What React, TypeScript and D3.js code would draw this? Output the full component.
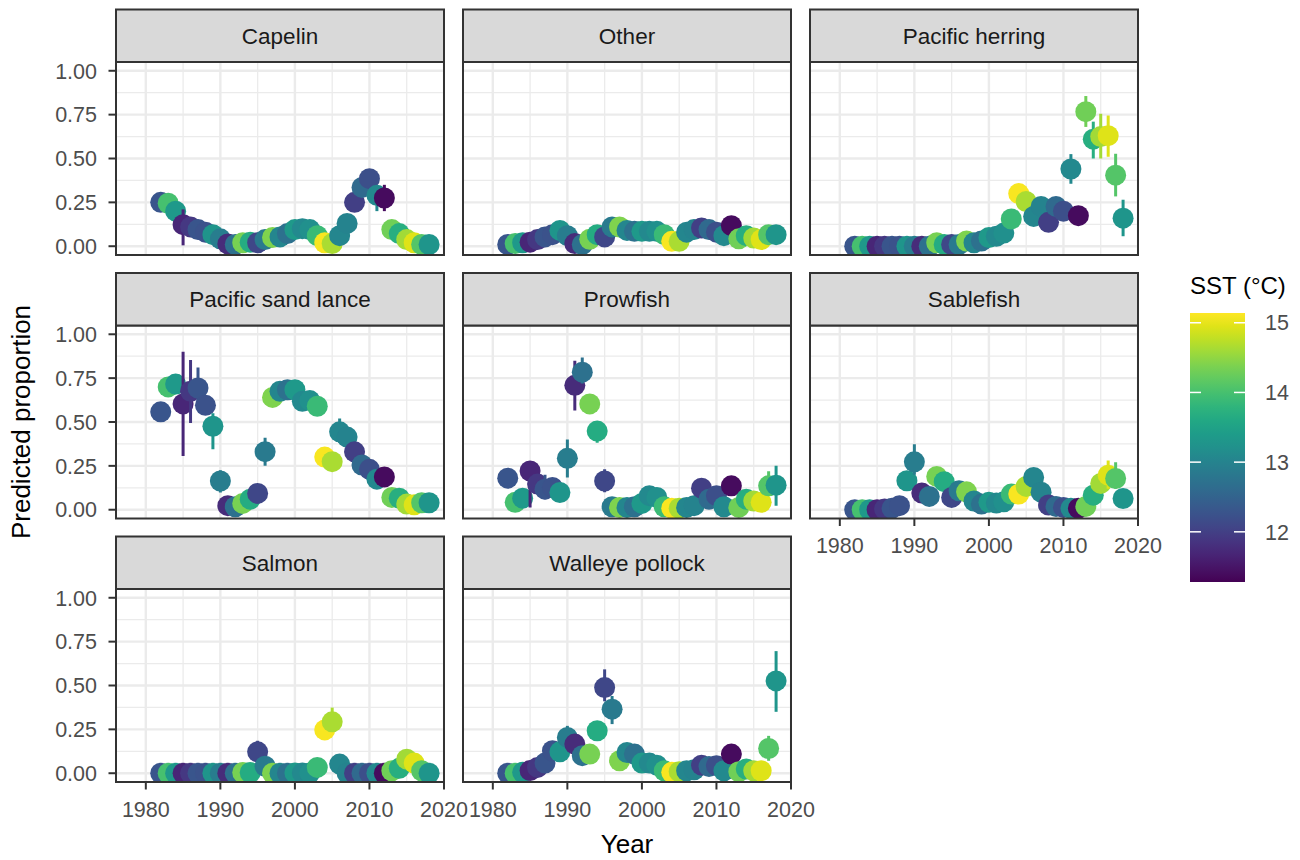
import React, { useEffect, useRef } from 'react';
import * as d3 from 'd3';

const years = [1982, 1983, 1984, 1985, 1986, 1987, 1988, 1989, 1990, 1991, 1992, 1993, 1994, 1995, 1996, 1997, 1998, 1999, 2000,
  2001, 2002, 2003, 2004, 2005, 2006, 2007, 2008, 2009, 2010, 2011, 2012, 2013, 2014, 2015, 2016, 2017, 2018];

// sea surface temperature for each year
const sst = [12.3, 14.0, 13.35, 11.7, 11.9, 12.3, 12.25, 13.3, 12.9, 11.75, 12.7, 14.35, 13.65, 12.1, 12.85, 14.4, 13.05, 12.7, 13.35,
  13.1, 13.2, 13.9, 15.1, 14.65, 13.05, 13.0, 12.0, 12.6, 12.2, 13.1, 11.4, 14.3, 13.7, 14.6, 14.95, 14.1, 13.3];

const capelin = [0.25, 0.245, 0.2, 0.123, 0.11, 0.095, 0.08, 0.066, 0.042, 0.013, 0.01, 0.02, 0.023, 0.02, 0.038, 0.05, 0.053, 0.072, 0.095,
  0.1, 0.095, 0.06, 0.02, 0.015, 0.06, 0.13, 0.25, 0.335, 0.385, 0.29, 0.275, 0.095, 0.072, 0.038, 0.02, 0.01, 0.01];
const other = [0.01, 0.015, 0.02, 0.023, 0.038, 0.053, 0.066, 0.09, 0.06, 0.015, 0.01, 0.04, 0.066, 0.053, 0.11, 0.11, 0.09, 0.085, 0.085,
  0.085, 0.085, 0.066, 0.028, 0.028, 0.08, 0.095, 0.104, 0.095, 0.08, 0.06, 0.117, 0.042, 0.06, 0.047, 0.038, 0.066, 0.066];
const herring = [0, 0, 0, 0, 0, 0, 0, 0, 0, 0, 0, 0.02, 0.01, 0.01, 0.01, 0.03, 0.02, 0.03, 0.05,
  0.057, 0.075, 0.155, 0.3, 0.255, 0.17, 0.227, 0.136, 0.227, 0.2, 0.44, 0.174, 0.767, 0.61, 0.625, 0.63, 0.405, 0.16];
const sandLance = [0.558, 0.7, 0.716, 0.603, 0.675, 0.694, 0.595, 0.476, 0.164, 0.023, 0.017, 0.036, 0.06, 0.093, 0.331, 0.64, 0.675, 0.684, 0.684,
  0.618, 0.622, 0.59, 0.3, 0.274, 0.444, 0.414, 0.33, 0.255, 0.23, 0.174, 0.187, 0.07, 0.066, 0.032, 0.028, 0.04, 0.04];
const prowfish = [0.18, 0.042, 0.066, 0.221, 0.146, 0.117, 0.127, 0.098, 0.293, 0.709, 0.784, 0.603, 0.448, 0.164, 0.017, 0.013, 0.013, 0.017, 0.036,
  0.08, 0.07, 0.017, 0.009, 0.009, 0.013, 0.023, 0.123, 0.06, 0.08, 0.017, 0.136, 0.013, 0.06, 0.05, 0.042, 0.136, 0.14];
const sablefish = [0, 0, 0, 0, 0.004, 0.008, 0.023, 0.165, 0.273, 0.095, 0.076, 0.19, 0.16, 0.07, 0.108, 0.102, 0.05, 0.032, 0.042,
  0.038, 0.045, 0.089, 0.089, 0.133, 0.184, 0.1, 0.027, 0.019, 0.013, 0.008, 0.008, 0.019, 0.083, 0.15, 0.197, 0.178, 0.064];
const salmon = [0, 0, 0, 0, 0, 0, 0, 0, 0, 0, 0, 0.004, 0.004, 0.122, 0.04, 0, 0, 0, 0.002,
  0.002, 0.002, 0.033, 0.247, 0.293, 0.052, 0, 0, 0, 0, 0, 0, 0.014, 0.028, 0.08, 0.058, 0.014, 0];
const pollock = [0, 0, 0.005, 0.015, 0.033, 0.058, 0.128, 0.122, 0.204, 0.166, 0.1, 0.109, 0.242, 0.488, 0.365, 0.071, 0.118, 0.109, 0.058,
  0.058, 0.046, 0.014, 0.005, 0.009, 0.014, 0.02, 0.046, 0.039, 0.043, 0.014, 0.109, 0.009, 0.024, 0.014, 0.014, 0.141, 0.526];

// [year, lower, upper] for the intervals that show past the points
const capelinBars = [[1985, 0.005, 0.21], [2011, 0.2, 0.33], [2012, 0.2, 0.35]];
const otherBars = [];
const herringBars = [[2011, 0.356, 0.525], [2013, 0.68, 0.856], [2014, 0.5, 0.71], [2015, 0.5, 0.755], [2016, 0.51, 0.745],
  [2017, 0.284, 0.527], [2018, 0.057, 0.265]];
const sandLanceBars = [[1985, 0.306, 0.9], [1986, 0.495, 0.854], [1987, 0.58, 0.81], [1989, 0.344, 0.55], [1990, 0.098, 0.225],
  [1996, 0.25, 0.41], [1997, 0.6, 0.67], [2006, 0.38, 0.52]];
const prowfishBars = [[1985, 0.013, 0.278], [1987, 0.06, 0.2], [1990, 0.183, 0.4], [1991, 0.565, 0.849], [1992, 0.72, 0.868],
  [1994, 0.382, 0.505], [1995, 0.1, 0.23], [2017, 0.08, 0.22], [2018, 0.023, 0.25]];
const sablefishBars = [[1990, 0.2, 0.373], [2016, 0.12, 0.28], [2017, 0.12, 0.27]];
const salmonBars = [[1995, 0.08, 0.185], [2005, 0.24, 0.374]];
const pollockBars = [[1990, 0.15, 0.27], [1995, 0.41, 0.592], [1996, 0.28, 0.44], [2017, 0.071, 0.213], [2018, 0.35, 0.696]];

const panels = [
  { name: 'Capelin', values: capelin, bars: capelinBars },
  { name: 'Other', values: other, bars: otherBars },
  { name: 'Pacific herring', values: herring, bars: herringBars },
  { name: 'Pacific sand lance', values: sandLance, bars: sandLanceBars },
  { name: 'Prowfish', values: prowfish, bars: prowfishBars },
  { name: 'Sablefish', values: sablefish, bars: sablefishBars },
  { name: 'Salmon', values: salmon, bars: salmonBars },
  { name: 'Walleye pollock', values: pollock, bars: pollockBars },
];

const xMajor = [1980, 1990, 2000, 2010, 2020];
const xMinor = [1985, 1995, 2005, 2015];
const yMajor = [0, 0.25, 0.5, 0.75, 1];
const yMinor = [0.125, 0.375, 0.625, 0.875];
const legendTicks = [12, 13, 14, 15];

const font = 'Liberation Sans, Arial, Helvetica, sans-serif';
const W = 1300, H = 860;
const colLeft = [116, 463, 810];
const rowTop = [62, 325.5, 589];
const pw = 328, ph = 193, stripH = 52.5;

const color = d3.scaleSequential(d3.interpolateViridis).domain([11.28, 15.14]);

function App() {
  const ref = useRef(null);

  useEffect(() => {
    const svg = d3.select(ref.current);
    svg.selectAll('*').remove();
    const defs = svg.append('defs');

    panels.forEach((p, i) => {
      const col = i % 3, row = Math.floor(i / 3);
      const left = colLeft[col], top = rowTop[row];
      const x = d3.scaleLinear().domain([1976, 2020]).range([0, pw]);
      const y = d3.scaleLinear().domain([-0.05, 1.05]).range([ph, 0]);
      const g = svg.append('g').attr('transform', `translate(${left},${top})`);

      defs.append('clipPath').attr('id', 'clip' + i)
        .append('rect').attr('width', pw).attr('height', ph);

      g.append('rect').attr('width', pw).attr('height', ph).attr('fill', 'white');

      const grid = g.append('g').attr('clip-path', `url(#clip${i})`);
      grid.selectAll('.vminor').data(xMinor).enter().append('line')
        .attr('x1', d => x(d)).attr('x2', d => x(d)).attr('y1', 0).attr('y2', ph)
        .attr('stroke', '#ebebeb').attr('stroke-width', 1.3);
      grid.selectAll('.hminor').data(yMinor).enter().append('line')
        .attr('x1', 0).attr('x2', pw).attr('y1', d => y(d)).attr('y2', d => y(d))
        .attr('stroke', '#ebebeb').attr('stroke-width', 1.3);
      grid.selectAll('.vmajor').data(xMajor).enter().append('line')
        .attr('x1', d => x(d)).attr('x2', d => x(d)).attr('y1', 0).attr('y2', ph)
        .attr('stroke', '#ebebeb').attr('stroke-width', 2.4);
      grid.selectAll('.hmajor').data(yMajor).enter().append('line')
        .attr('x1', 0).attr('x2', pw).attr('y1', d => y(d)).attr('y2', d => y(d))
        .attr('stroke', '#ebebeb').attr('stroke-width', 2.4);

      // point + range, drawn year by year like geom_pointrange
      years.forEach((yr, k) => {
        const c = color(sst[k]);
        const bar = p.bars.find(b => b[0] === yr);
        if (bar) {
          grid.append('line')
            .attr('x1', x(yr)).attr('x2', x(yr))
            .attr('y1', y(bar[1])).attr('y2', y(bar[2]))
            .attr('stroke', c).attr('stroke-width', 3);
        }
        grid.append('circle')
          .attr('cx', x(yr)).attr('cy', y(p.values[k]))
          .attr('r', 10.5).attr('fill', c);
      });

      g.append('rect').attr('width', pw).attr('height', ph)
        .attr('fill', 'none').attr('stroke', '#333333').attr('stroke-width', 2);

      // strip
      g.append('rect').attr('y', -stripH).attr('width', pw).attr('height', stripH)
        .attr('fill', '#d9d9d9').attr('stroke', '#333333').attr('stroke-width', 2);
      g.append('text').attr('x', pw / 2).attr('y', -stripH / 2).attr('dy', '0.35em')
        .attr('text-anchor', 'middle').attr('font-family', font).attr('font-size', 22.5)
        .attr('fill', '#1a1a1a').text(p.name);

      if (col === 0) {
        g.selectAll('.yt').data(yMajor).enter().append('line')
          .attr('x1', -7.5).attr('x2', 0).attr('y1', d => y(d)).attr('y2', d => y(d))
          .attr('stroke', '#333333').attr('stroke-width', 2);
        g.selectAll('.yl').data(yMajor).enter().append('text')
          .attr('x', -19).attr('y', d => y(d)).attr('dy', '0.36em')
          .attr('text-anchor', 'end').attr('font-family', font).attr('font-size', 21.5)
          .attr('fill', '#4d4d4d').text(d => d3.format('.2f')(d));
      }

      const bottom = i + 3 >= panels.length;
      if (bottom) {
        g.selectAll('.xt').data(xMajor).enter().append('line')
          .attr('x1', d => x(d)).attr('x2', d => x(d)).attr('y1', ph).attr('y2', ph + 7.5)
          .attr('stroke', '#333333').attr('stroke-width', 2);
        g.selectAll('.xl').data(xMajor).enter().append('text')
          .attr('x', d => x(d)).attr('y', ph + 34.5)
          .attr('text-anchor', 'middle').attr('font-family', font).attr('font-size', 21.5)
          .attr('fill', '#4d4d4d').text(d => d);
      }
    });

    // axis titles
    svg.append('text').attr('x', (colLeft[0] + colLeft[2] + pw) / 2).attr('y', 853)
      .attr('text-anchor', 'middle').attr('font-family', font).attr('font-size', 26)
      .attr('fill', 'black').text('Year');
    svg.append('text')
      .attr('transform', `translate(30,${(rowTop[0] + rowTop[2] + ph) / 2}) rotate(-90)`)
      .attr('text-anchor', 'middle').attr('font-family', font).attr('font-size', 26)
      .attr('fill', 'black').text('Predicted proportion');

    // colour bar legend
    const lx = 1190, lw = 55, ltop = 313, lbot = 582;
    const ly = d3.scaleLinear().domain(color.domain()).range([lbot, ltop]);
    const grad = defs.append('linearGradient').attr('id', 'sstgrad')
      .attr('x1', 0).attr('x2', 0).attr('y1', 1).attr('y2', 0);
    d3.range(0, 1.0001, 0.05).forEach(t => {
      grad.append('stop').attr('offset', t).attr('stop-color', d3.interpolateViridis(t));
    });
    svg.append('text').attr('x', lx).attr('y', 294).attr('font-family', font)
      .attr('font-size', 24).attr('fill', 'black').text('SST (°C)');
    svg.append('rect').attr('x', lx).attr('y', ltop).attr('width', lw).attr('height', lbot - ltop)
      .attr('fill', 'url(#sstgrad)');
    legendTicks.forEach(t => {
      svg.append('line').attr('x1', lx).attr('x2', lx + 11).attr('y1', ly(t)).attr('y2', ly(t))
        .attr('stroke', 'white').attr('stroke-width', 1.5);
      svg.append('line').attr('x1', lx + lw - 11).attr('x2', lx + lw).attr('y1', ly(t)).attr('y2', ly(t))
        .attr('stroke', 'white').attr('stroke-width', 1.5);
      svg.append('text').attr('x', 1265).attr('y', ly(t)).attr('dy', '0.36em')
        .attr('font-family', font).attr('font-size', 21.5).attr('fill', '#4d4d4d').text(t);
    });
  }, []);

  return (
    <svg ref={ref} width={W} height={H}
      style={{ position: 'absolute', left: 0, top: 0, background: 'white', display: 'block' }} />
  );
}

export default App;
